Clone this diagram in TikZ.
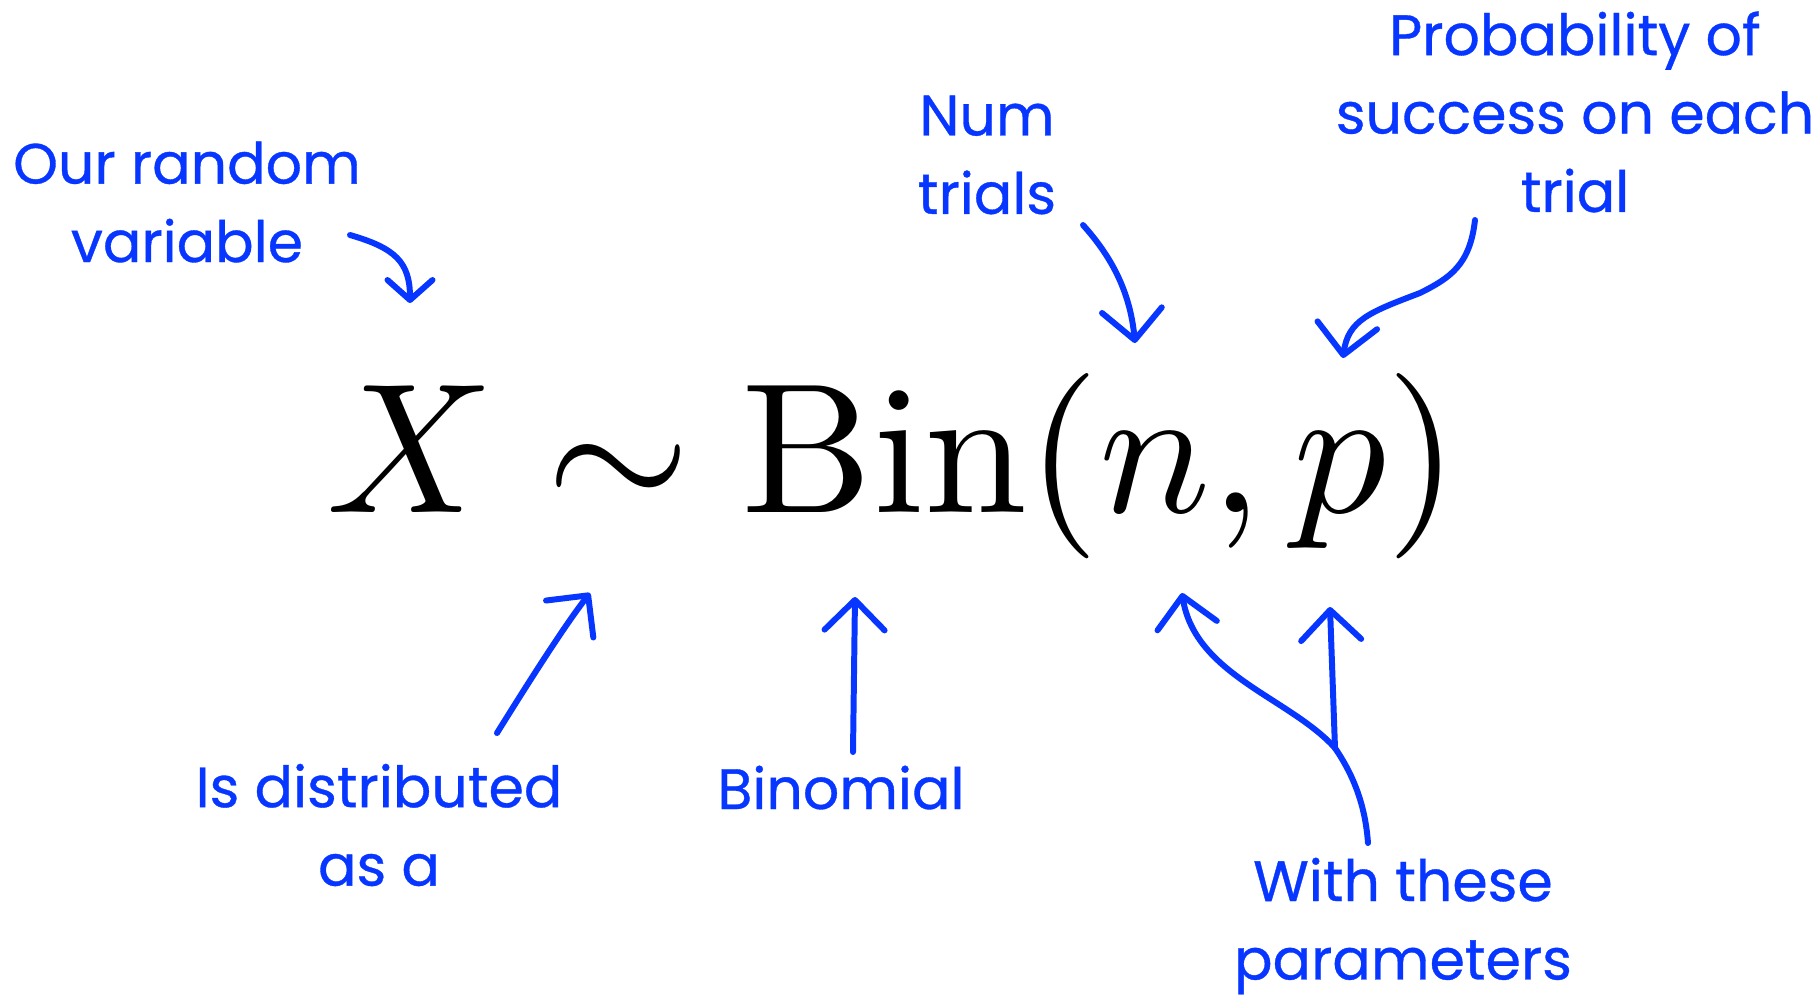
\documentclass[tikz,border=0pt]{standalone}
\usepackage{fontspec}
\usepackage{xcolor}
\usepackage{tikz}
\usetikzlibrary{arrows.meta,positioning,calc}
\newfontfamily\handfont{Poppins}[FakeBold=0.6]
\definecolor{bnblue}{HTML}{0636FF}
\tikzset{
  bnlabel/.style={text=bnblue, font=\handfont\fontsize{16.2}{22.3}\selectfont,
    align=center, inner sep=0pt},
  bnarrow/.style={draw=bnblue, line width=1.7pt, line cap=round, line join=round,
    -{Straight Barb[length=3mm,width=6mm,round]}},
  bnstroke/.style={draw=bnblue, line width=1.7pt, line cap=round, line join=round}
}

\begin{document}
\begin{tikzpicture}[x=0.01cm, y=-0.01cm]
  \useasboundingbox (0,0) rectangle (1817,996);
  % the formula
  \node[anchor=base west, inner sep=0pt, scale=5.27] (eq) at (323,512)
    {$X \sim \mathrm{Bin}(n,p)$};
  % labels
  \node[bnlabel] (var) at (187,202) {Our random\\variable};
  \node[bnlabel] (num) at (987,155) {Num\\trials};
  \node[bnlabel] (prob) at (1575,112) {Probability of\\success on each\\trial};
  \node[bnlabel] (dist) at (379,825) {Is distributed\\as a};
  \node[bnlabel, anchor=base] (binom) at (841,809) {Binomial};
  \node[bnlabel] (param) at (1403,926) {With these\\parameters};
  % arrow ends
  \coordinate (varS) at (350,235);
  \coordinate (xT) at (410,303);
  \coordinate (numS) at (1083,225);
  \coordinate (nT) at (1135,343);
  \coordinate (probS) at (1475,220);
  \coordinate (pT) at (1343,358);
  \coordinate (distS) at (497,733);
  \coordinate (simT) at (590,593);
  \coordinate (binS) at (853,752);
  \coordinate (binT) at (855,597);
  \coordinate (paramS) at (1368,843);
  \coordinate (paramJ) at (1335,748);
  \coordinate (nB) at (1182,593);
  \coordinate (pB) at (1330,607);
  % arrows
  \draw[bnarrow, -{Straight Barb[length=2mm,width=4.5mm,round]}]
    (varS) .. controls (395,248) and (410,262) .. (xT);
  \draw[bnarrow] (numS) .. controls (1110,255) and (1130,290) .. (nT);
  \draw[bnarrow] (probS) .. controls (1470,265) and (1450,278) .. (1420,293)
    .. controls (1370,312) and (1348,320) .. (pT);
  \draw[bnarrow] (distS) .. controls (530,680) and (565,625) .. (simT);
  \draw[bnarrow] (binS) -- (binT);
  \draw[bnstroke] (paramS) .. controls (1365,800) and (1350,770) .. (paramJ);
  \draw[bnarrow] (paramJ) .. controls (1290,698) and (1195,675) .. (nB);
  \draw[bnarrow] (paramJ) -- (pB);
\end{tikzpicture}
\end{document}
